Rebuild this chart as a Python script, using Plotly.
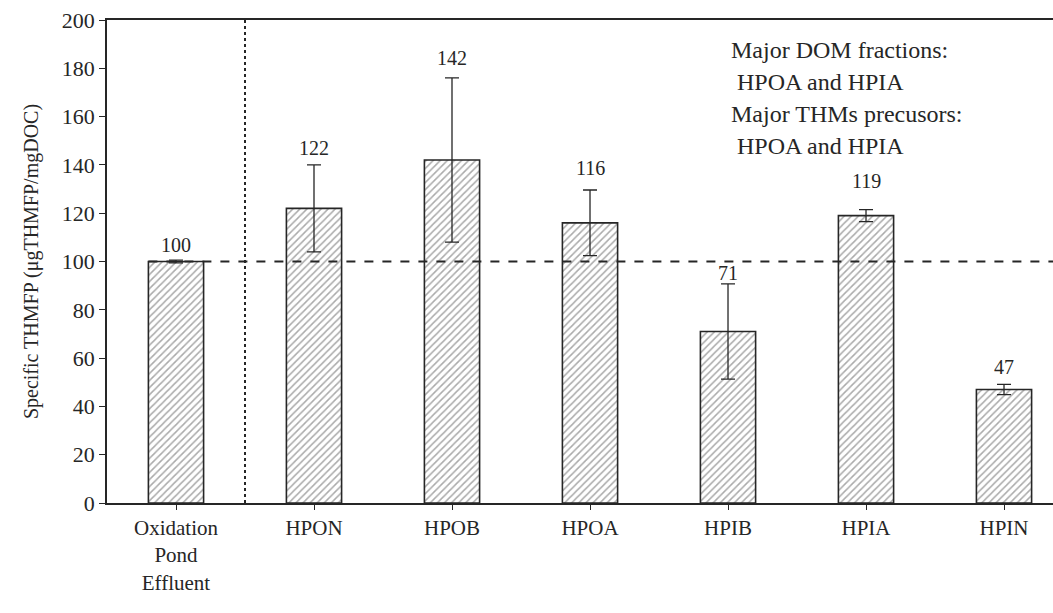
import plotly.graph_objects as go

categories = ["Oxidation<br>Pond<br>Effluent", "HPON", "HPOB", "HPOA", "HPIB", "HPIA", "HPIN"]
values = [100, 122, 142, 116, 71, 119, 47]
errors = [0.6, 18, 34, 13.6, 19.7, 2.5, 2.1]
value_labels = ["100", "122", "142", "116", "71", "119", "47"]
label_shift_px = [15, 17, 20, 22, 11, 29, 17]
reference_level = 100
note_lines = ["Major DOM fractions:", " HPOA and HPIA", "Major THMs precusors:", " HPOA and HPIA"]

FONT = "Liberation Serif"
INK = "#262626"

xs = list(range(len(categories)))

fig = go.Figure()
fig.add_trace(go.Bar(
    x=xs, y=values, width=0.4,
    marker=dict(
        color="white",
        line=dict(color=INK, width=1.6),
        pattern=dict(shape="/", size=5, solidity=0.3, fgcolor="#555555", bgcolor="white"),
    ),
    error_y=dict(type="data", array=errors, visible=True, color=INK, thickness=1.3, width=7),
    showlegend=False,
))

# reference dashed line at 100
fig.add_shape(type="line", xref="x", yref="y", x0=-0.2, x1=6.6,
              y0=reference_level, y1=reference_level,
              line=dict(color=INK, width=2, dash="dash"))
# vertical dotted separator
fig.add_shape(type="line", xref="x", yref="paper", x0=0.5, x1=0.5, y0=0, y1=1,
              line=dict(color=INK, width=2, dash="dot"))

for i, (v, e, t, s) in enumerate(zip(values, errors, value_labels, label_shift_px)):
    fig.add_annotation(x=i, y=v + e, text=t, showarrow=False, yanchor="middle",
                       yshift=s, font=dict(family=FONT, size=20, color=INK))

for k, line in enumerate(note_lines):
    fig.add_annotation(xref="paper", yref="paper", x=0.658, y=1 - (30 + 32 * k) / 483,
                       text=line.replace(" ", "&nbsp;", 1) if line.startswith(" ") else line,
                       showarrow=False, xanchor="left", yanchor="middle",
                       font=dict(family=FONT, size=24, color=INK))

fig.update_layout(
    width=1053, height=613,
    margin=dict(l=107, r=0, t=20, b=110),
    plot_bgcolor="white", paper_bgcolor="white",
    font=dict(family=FONT, color=INK),
)
fig.update_xaxes(
    range=[-0.5, 6.355], tickmode="array", tickvals=xs, ticktext=categories,
    showline=True, linecolor=INK, linewidth=1.5, mirror=True,
    ticks="outside", ticklen=5, tickcolor=INK, tickson="boundaries",
    showgrid=False, zeroline=False,
    tickfont=dict(family=FONT, size=21, color=INK),
)
fig.update_yaxes(
    range=[0, 200], dtick=20, tick0=0,
    showline=True, linecolor=INK, linewidth=1.5,
    ticks="outside", ticklen=6, tickcolor=INK,
    showgrid=False, zeroline=False,
    tickfont=dict(family=FONT, size=22, color=INK),
    title=dict(text="Specific THMFP (μgTHMFP/mgDOC)", font=dict(family=FONT, size=20, color=INK), standoff=18),
)

fig.write_html("out.html")
